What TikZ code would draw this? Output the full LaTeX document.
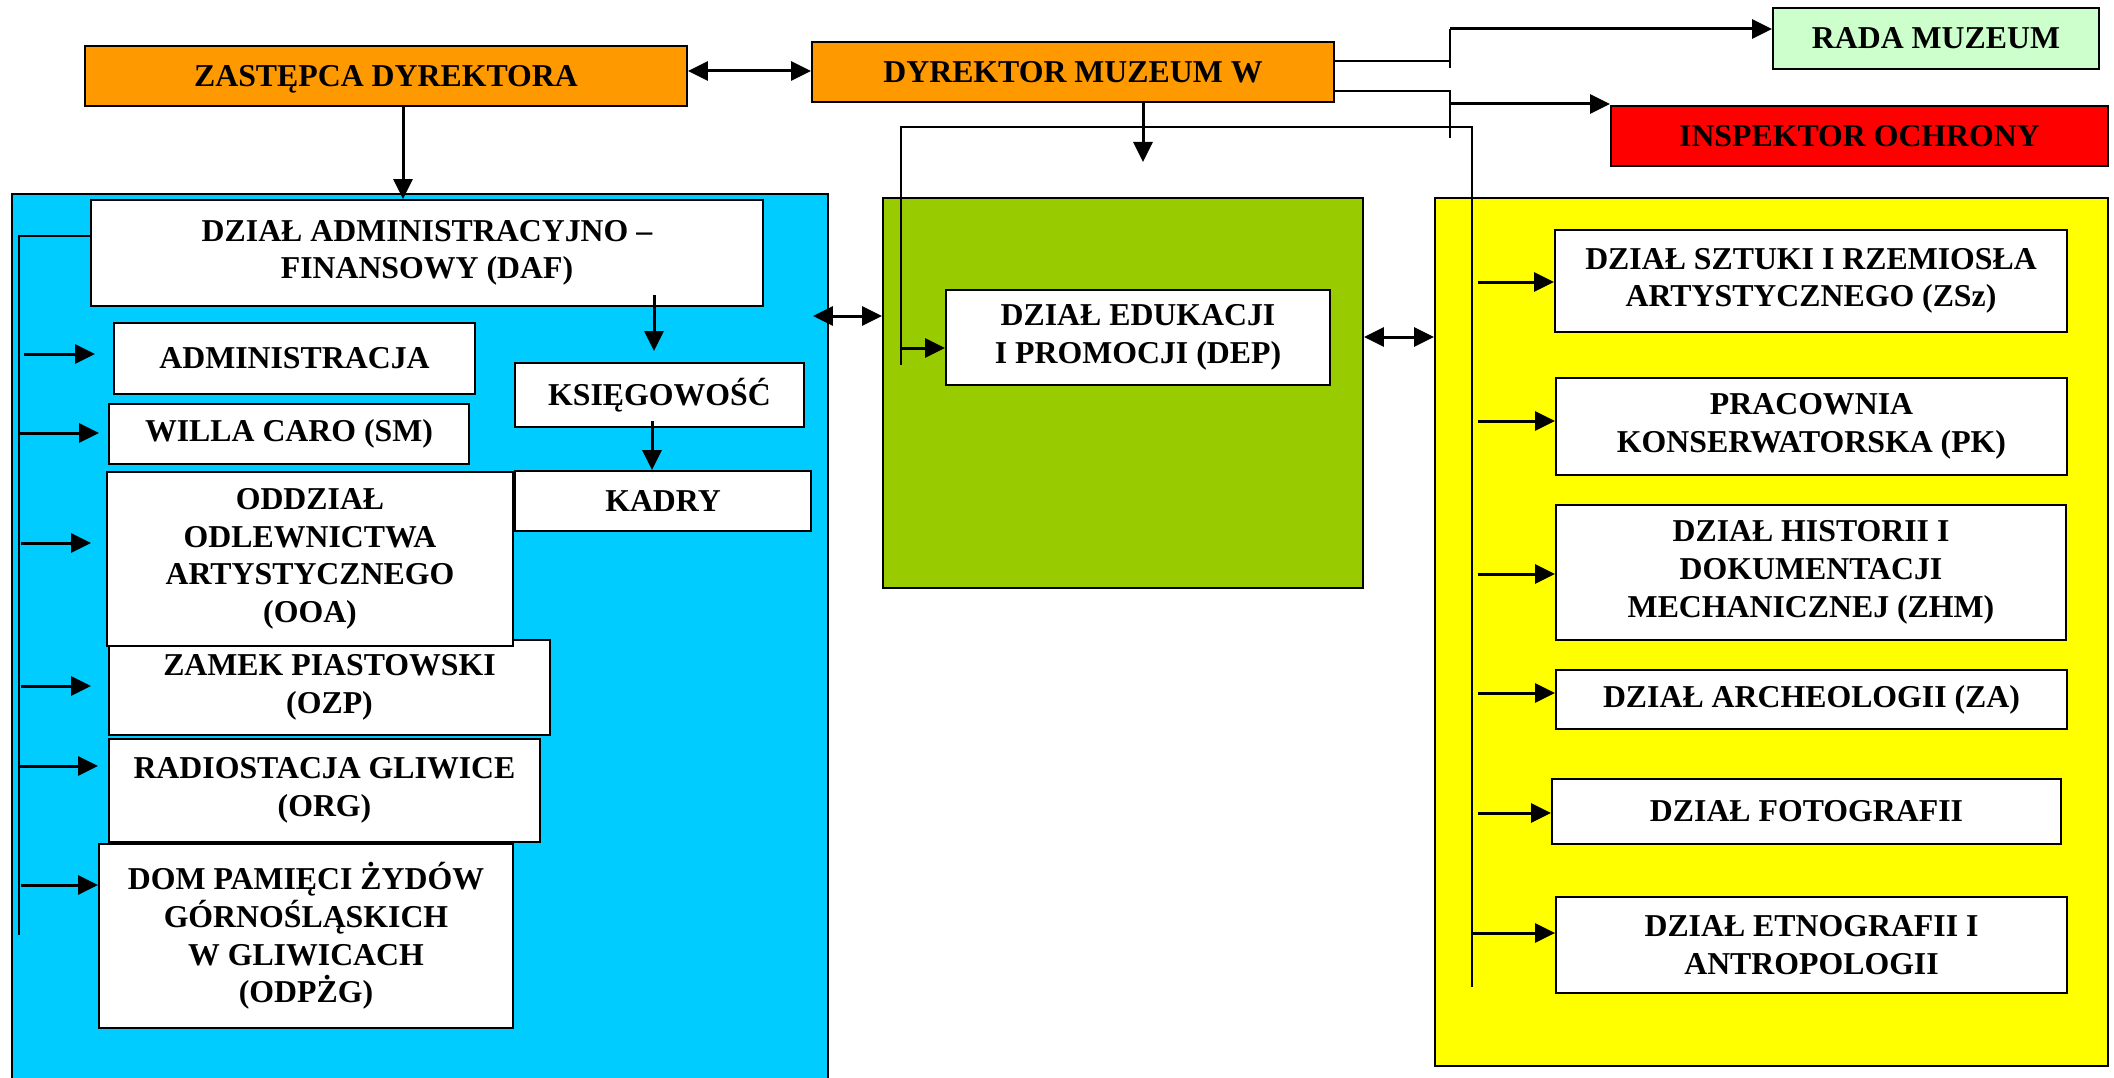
\documentclass[tikz,border=0pt]{standalone}
\usepackage{fontspec}
\setmainfont{Liberation Serif}
\usetikzlibrary{arrows.meta}
\definecolor{orng}{HTML}{FF9900}
\definecolor{blu}{HTML}{00CCFF}
\definecolor{grn}{HTML}{99CC00}
\definecolor{yel}{HTML}{FFFF00}
\definecolor{lgrn}{HTML}{CCFFCC}
\definecolor{rd}{HTML}{FF0000}
\newcommand{\bx}[8][]{\node[box, fill=#7, minimum width={(#5-#3)*1pt}, minimum height={(#6-#4)*1pt}, #1] (#2) at ({(#3+#5)/2},{(#4+#6)/2}) {#8};}
\begin{document}
\begin{tikzpicture}[x=1pt,y=-1pt,
  box/.style={draw=black, line width=1.8pt, inner sep=0pt, align=center,
    font=\bfseries\fontsize{31.8}{37.7}\selectfont},
  conn/.style={line width=2pt},
  arr/.style={line width=3pt, -{Triangle[length=20pt,width=19pt]}},
  darr/.style={line width=3pt, {Triangle[length=20pt,width=19pt]}-{Triangle[length=20pt,width=19pt]}}]
\useasboundingbox (0,0) rectangle (2114,1078);
% panels
\bx{blue}{12}{194}{828}{1095}{blu}{}
\bx{green}{883}{198}{1363}{588}{grn}{}
\bx{yellow}{1435}{198}{2108}{1066}{yel}{}
% top
\bx[text depth=0pt]{zast}{85}{46}{687}{106}{orng}{ZASTĘPCA DYREKTORA}
\bx{dyr}{812}{42}{1334}{102}{orng}{DYREKTOR MUZEUM W}
\bx{rada}{1773}{8}{2099}{69}{lgrn}{RADA MUZEUM}
\bx{insp}{1611}{106}{2108}{166}{rd}{INSPEKTOR OCHRONY}
% blue panel
\bx{daf}{91}{200}{763}{306}{white}{DZIAŁ ADMINISTRACYJNO –\\FINANSOWY (DAF)}
\bx{admin}{114}{323}{475}{394}{white}{ADMINISTRACJA}
\bx{willa}{109}{404}{469}{464}{white}{WILLA CARO (SM)}
\bx{zamek}{109}{640}{550}{735}{white}{ZAMEK PIASTOWSKI\\(OZP)}
\bx{oddz}{107}{472}{513}{646}{white}{ODDZIAŁ\\ODLEWNICTWA\\ARTYSTYCZNEGO\\(OOA)}
\bx{radio}{109}{739}{540}{842}{white}{RADIOSTACJA GLIWICE\\(ORG)}
\bx{dom}{99}{844}{513}{1028}{white}{DOM PAMIĘCI ŻYDÓW\\GÓRNOŚLĄSKICH\\W GLIWICACH\\(ODPŻG)}
\bx{ksieg}{515}{363}{804}{427}{white}{KSIĘGOWOŚĆ}
\bx{kadry}{515}{471}{811}{531}{white}{KADRY}
% green panel
\bx{dep}{946}{290}{1330}{385}{white}{DZIAŁ EDUKACJI\\I PROMOCJI (DEP)}
% yellow panel
\bx{zsz}{1555}{230}{2067}{332}{white}{DZIAŁ SZTUKI I RZEMIOSŁA\\ARTYSTYCZNEGO (ZSz)}
\bx{pk}{1556}{378}{2067}{475}{white}{PRACOWNIA\\KONSERWATORSKA (PK)}
\bx{zhm}{1556}{505}{2066}{640}{white}{DZIAŁ HISTORII I\\DOKUMENTACJI\\MECHANICZNEJ (ZHM)}
\bx{za}{1556}{670}{2067}{729}{white}{DZIAŁ ARCHEOLOGII (ZA)}
\bx{foto}{1552}{779}{2061}{844}{white}{DZIAŁ FOTOGRAFII}
\bx{etno}{1556}{897}{2067}{993}{white}{DZIAŁ ETNOGRAFII I\\ANTROPOLOGII}
% connectors
\draw[darr] (zast.east |- 0,71) -- (dyr.west |- 0,71);
\draw[arr] (zast.south -| 403,0) -- (daf.north -| 403,0);
\coordinate (dyrdown) at (1143,162);
\draw[arr] (dyr.south -| dyrdown) -- (dyrdown);
\coordinate (ja) at (1450,29);
\coordinate (jb) at (1450,104);
\draw[conn] (dyr.east |- 0,61) -- (1450,61);
\draw[conn] (1450,68) -- (ja);
\draw[arr] (ja) -- (rada.west |- ja);
\draw[conn] (dyr.east |- 0,91) -- (1450,91) -- (1450,138);
\draw[arr] (jb) -- (insp.west |- jb);
% long bus to DEP and yellow panel
\draw[conn] (901,365) -- (901,127) -- (1472,127) -- (1472,987);
\draw[arr] (901,348) -- (dep.west |- 0,348);
\foreach \n/\y in {zsz/282, pk/421, zhm/574, za/693, foto/813} {
  \draw[arr] (1478,\y) -- (\n.west |- 0,\y);
}
\draw[arr] (1472,933) -- (etno.west |- 0,933);
% left bus
\draw[conn] (daf.west |- 0,236) -- (19,236) -- (19,935);
\draw[arr, shorten >=18pt] (24,354) -- (admin.west |- 0,354);
\draw[arr, shorten >=9pt] (19,433) -- (willa.west |- 0,433);
\draw[arr, shorten >=15pt] (21,543) -- (oddz.west |- 0,543);
\draw[arr, shorten >=17pt] (21,686) -- (zamek.west |- 0,686);
\draw[arr, shorten >=10pt] (19,766) -- (radio.west |- 0,766);
\draw[arr] (21,885) -- (dom.west |- 0,885);
% internal
\draw[arr, shorten >=11pt] (654,295) -- (ksieg.north -| 654,0);
\draw[arr] (652,421) -- (kadry.north -| 652,0);
\draw[darr, shorten <=-16pt] (blue.east |- 0,316) -- (green.west |- 0,316);
\draw[darr] (green.east |- 0,337) -- (yellow.west |- 0,337);
\end{tikzpicture}
\end{document}
